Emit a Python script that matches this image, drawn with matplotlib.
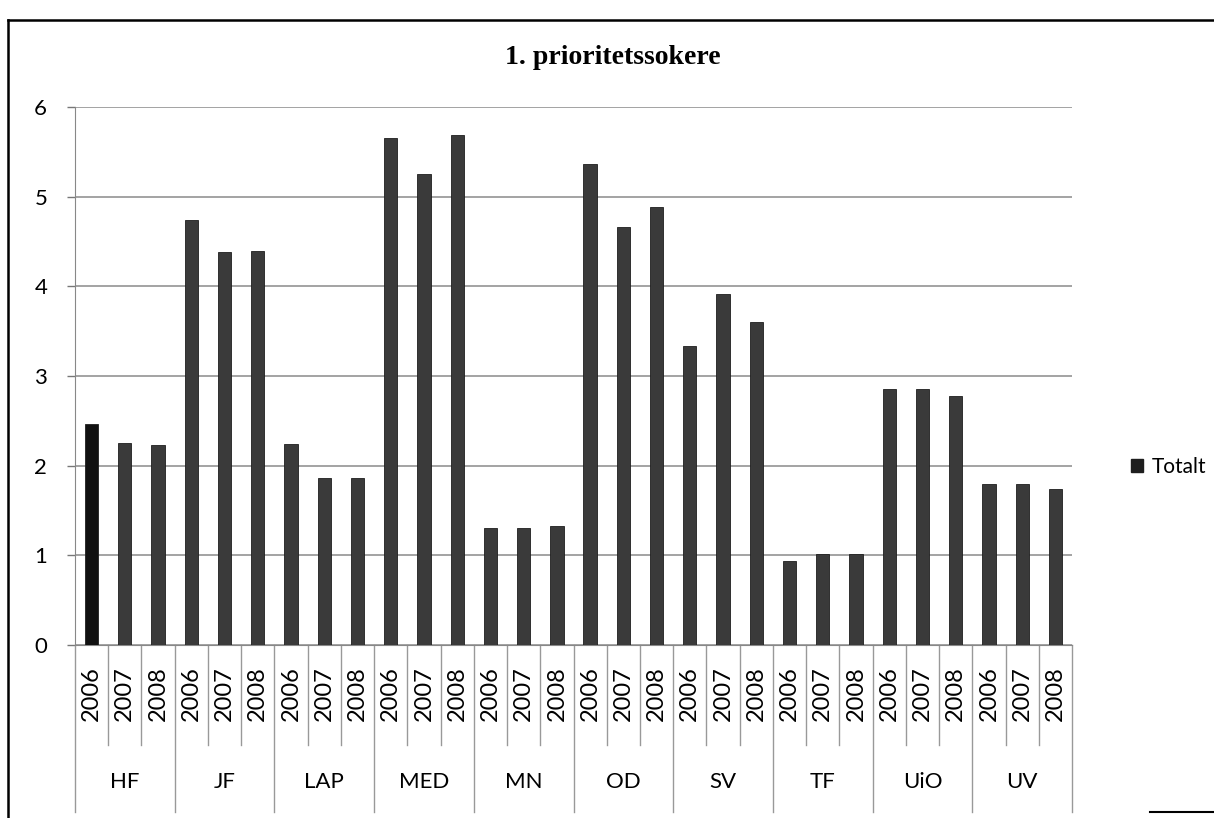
import numpy as np
import matplotlib
matplotlib.use("Agg")
import matplotlib.pyplot as plt
from matplotlib.patches import Patch
from matplotlib.lines import Line2D
import matplotlib.transforms as mtransforms

# data
groups = ["HF", "JF", "LAP", "MED", "MN", "OD", "SV", "TF", "UiO", "UV"]
years = ["2006", "2007", "2008"]
totalt = [2.47, 2.25, 2.23,
          4.74, 4.38, 4.39,
          2.24, 1.86, 1.86,
          5.65, 5.25, 5.69,
          1.30, 1.30, 1.33,
          5.36, 4.66, 4.89,
          3.34, 3.91, 3.60,
          0.94, 1.01, 1.01,
          2.86, 2.85, 2.78,
          1.79, 1.79, 1.74]
y_ticks = [0, 1, 2, 3, 4, 5, 6]

W, H = 1214, 818
fig = plt.figure(figsize=(W / 100, H / 100), dpi=100)
fig.patch.set_facecolor("white")

left, right, top, bottom = 75, 1072, 107, 645
ax = fig.add_axes([left / W, 1 - bottom / H, (right - left) / W, (bottom - top) / H])

n = len(totalt)
x = np.arange(n)
colors = ["#3a3a3a"] * n
colors[0] = "#111111"
ax.bar(x, totalt, width=0.4, color=colors, edgecolor="#1e1e1e", linewidth=0.6, zorder=3)

ax.set_xlim(-0.5, n - 0.5)
ax.set_ylim(0, 6)
ax.set_yticks(y_ticks)
ax.set_yticklabels([str(t) for t in y_ticks], fontsize=16, family="Lato")
ax.tick_params(axis="y", length=6, width=1, color="#777777", pad=14)
ax.set_xticks([])
ax.grid(axis="y", color="#8a8a8a", linewidth=1.1, zorder=0)
for s in ["top", "right"]:
    ax.spines[s].set_visible(False)
ax.spines["left"].set_color("#888888")
ax.spines["bottom"].set_color("#888888")

# two-level category axis below the plot
trans = mtransforms.blended_transform_factory(ax.transData, fig.transFigure)
yr_sep_end = 1 - 745 / H
grp_sep_end = 1 - 812 / H
for i in range(n):
    ax.text(i, 1 - 694 / H, years[i % 3], rotation=90, ha="center", va="center",
            fontsize=17, family="Lato", transform=trans)
for i in range(n + 1):
    xb = i - 0.5
    end = grp_sep_end if i % 3 == 0 else yr_sep_end
    ax.add_line(Line2D([xb, xb], [1 - bottom / H, end], transform=trans,
                       color="#999999", linewidth=1, clip_on=False))
for g, name in enumerate(groups):
    ax.text(g * 3 + 1, 1 - 782 / H, name, ha="center", va="center",
            fontsize=16, family="Lato", transform=trans)

fig.text(0.505, 1 - 57 / H, "1. prioritetssokere", ha="center", va="center",
         fontsize=20, fontweight="bold", family="Liberation Serif")

fig.legend(handles=[Patch(facecolor="#1e1e1e", edgecolor="#1e1e1e")], labels=["Totalt"],
           loc="center left", bbox_to_anchor=(1112 / W, 1 - 467 / H), frameon=False,
           handlelength=0.6, handleheight=0.6, handletextpad=0.4,
           prop={"family": "Lato", "size": 15})

# outer chart border as it appears in the scan
fig.add_artist(Line2D([8 / W, 1], [1 - 20 / H, 1 - 20 / H], transform=fig.transFigure,
                      color="black", linewidth=1.8))
fig.add_artist(Line2D([8 / W, 8 / W], [1 - 20 / H, 0], transform=fig.transFigure,
                      color="black", linewidth=1.8))
fig.add_artist(Line2D([1150 / W, 1], [1 - 812 / H, 1 - 812 / H], transform=fig.transFigure,
                      color="black", linewidth=1.5))

fig.savefig("out.png", dpi=100)
